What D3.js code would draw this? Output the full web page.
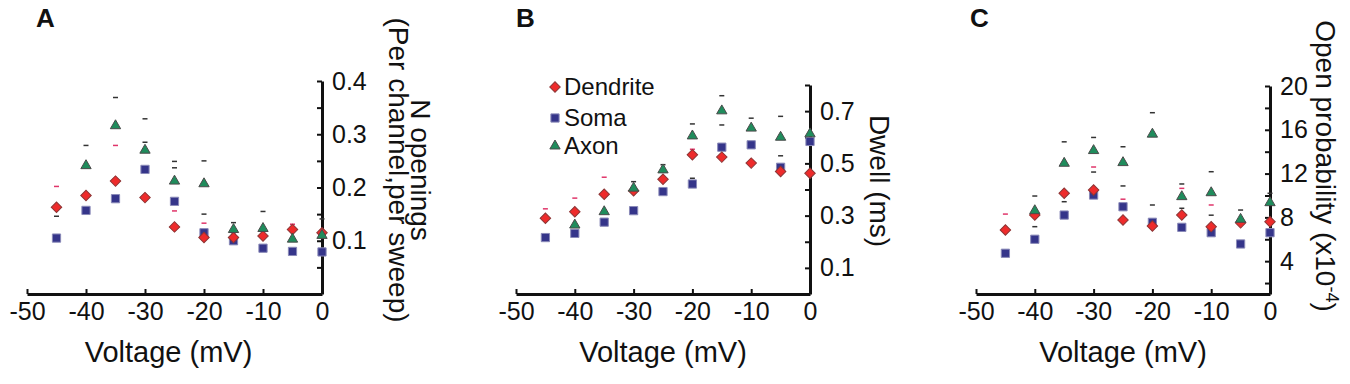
<!DOCTYPE html>
<html>
<head>
<meta charset="utf-8">
<script src="https://cdnjs.cloudflare.com/ajax/libs/d3/7.8.5/d3.min.js"></script>
<style>
  body { margin: 0; background: #fff; }
  text { font-family: "Liberation Sans", Arial, sans-serif; fill: #111; }
  .axis path, .axis line { stroke: #111; }
</style>
</head>
<body>
<div id="vis-container"></div>
<script>
//the data
let voltage = [-45, -40, -35, -30, -25, -20, -15, -10, -5, 0];
let xTicks = [-50, -40, -30, -20, -10, 0];

//panel A: N openings
let openDendrite = [0.163, 0.185, 0.212, 0.181, 0.126, 0.106, 0.106, 0.109, 0.121, 0.115];
let openSoma     = [0.105, 0.157, 0.179, 0.234, 0.174, 0.115, 0.100, 0.086, 0.080, 0.079];
let openAxon     = [null, 0.241, 0.316, 0.270, 0.212, 0.207, 0.121, 0.123, 0.103, 0.110];
let openDendriteErr = [0.039, 0, 0.067, 0, 0.030, 0.027, 0.017, 0, 0.010, 0];
let openSomaErr     = [0.041, 0, 0, 0.051, 0.063, 0.035, 0.012, 0, 0, 0];
let openAxonErr     = [null, 0.038, 0.053, 0.059, 0.037, 0.043, 0.013, 0.032, 0, 0.031];
let openTicks = [0.05, 0.1, 0.15, 0.2, 0.25, 0.3, 0.35, 0.4];
let openLabels = [0.1, 0.2, 0.3, 0.4];

//panel B: dwell
let dwellDendrite = [0.290, 0.315, 0.382, 0.395, 0.439, 0.533, 0.524, 0.501, 0.469, 0.462];
let dwellSoma     = [0.216, 0.232, 0.275, 0.319, 0.392, 0.421, 0.562, 0.571, 0.485, 0.584];
let dwellAxon     = [null, 0.264, 0.315, 0.405, 0.475, 0.605, 0.701, 0.635, 0.600, 0.613];
let dwellDendriteErr = [0.036, 0.052, 0.065, 0, 0, 0.021, 0, 0, 0, 0];
let dwellSomaErr     = [0, 0, 0, 0, 0, 0.022, 0.085, 0, 0.044, 0];
let dwellAxonErr     = [null, 0, 0, 0.025, 0.020, 0.046, 0.058, 0.038, 0.080, 0];
let dwellTicks = [0.1, 0.2, 0.3, 0.4, 0.5, 0.6, 0.7, 0.8];
let dwellLabels = [0.1, 0.3, 0.5, 0.7];

//panel C: open probability
let popDendrite = [6.84, 8.21, 10.2, 10.5, 7.76, 7.21, 8.21, 7.15, 7.5, 7.6];
let popSoma     = [4.72, 6.0, 8.21, 10.04, 8.97, 7.55, 7.09, 6.6, 5.57, 6.6];
let popAxon     = [null, 8.61, 12.94, 14.1, 13.0, 15.6, 9.89, 10.25, 7.82, 9.34];
let popDendriteErr = [1.46, 0, 0, 2.1, 1.9, 0, 2.44, 1.98, 0, 0];
let popSomaErr     = [0, 1.15, 1.22, 2.1, 1.9, 1.58, 1.74, 1.6, 0, 0];
let popAxonErr     = [null, 1.34, 1.96, 1.2, 1.45, 1.96, 1.16, 1.92, 0.85, 0.86];
let popTicks = [2, 4, 6, 8, 10, 12, 14, 16, 18, 20];
let popLabels = [4, 8, 12, 16, 20];

let seriesNames = ["Dendrite", "Soma", "Axon"];

//marker styles
let styles = {
  Dendrite: {shape: d3.symbolSquare, size: 55, rotate: 45, fill: "#ee2b2b", stroke: "#8c3535", cap: "#e0356a"},
  Soma:     {shape: d3.symbolSquare, size: 68, rotate: 0,  fill: "#35358a", stroke: "#8a8ab8", cap: "#333"},
  Axon:     {shape: d3.symbolTriangle, size: 46, rotate: 0, fill: "#1f8c5c", stroke: "#4a4a4a", cap: "#333"}
};

let svg = d3.select("#vis-container")
  .append("svg")
  .attr("width", 1350)
  .attr("height", 384);

let panels = [
  {letter: "A", letterX: 36, x0: 27, x1: 322, domain: [0, 0.4], top: 81,
    series: [openDendrite, openSoma, openAxon], errs: [openDendriteErr, openSomaErr, openAxonErr],
    ticks: openTicks, labels: openLabels, fmt: d3.format(".1f"),
    title: [["N openings", 89], ["(Per channel,per sweep)", 67]], titleY: 170},
  {letter: "B", letterX: 516, x0: 516, x1: 810, domain: [0, 0.8], top: 85,
    series: [dwellDendrite, dwellSoma, dwellAxon], errs: [dwellDendriteErr, dwellSomaErr, dwellAxonErr],
    ticks: dwellTicks, labels: dwellLabels, fmt: d3.format(".1f"),
    title: [["Dwell (ms)", 60]], titleY: 181, legend: true},
  {letter: "C", letterX: 970, x0: 976, x1: 1270, domain: [1, 20], top: 86,
    series: [popDendrite, popSoma, popAxon], errs: [popDendriteErr, popSomaErr, popAxonErr],
    ticks: popTicks, labels: popLabels, fmt: d3.format("d"),
    title: [["Open probability (x10", 46, "-4"]], titleY: 166}
];

let bottom = 294;

for (let p of panels) {
  let x = d3.scaleLinear().domain([-50, 0]).range([p.x0, p.x1]);
  let y = d3.scaleLinear().domain(p.domain).range([bottom, p.top]);
  let g = svg.append("g");

  //x axis, plain hyphen for the minus sign
  let xAxis = d3.axisBottom(x)
    .tickValues(xTicks)
    .tickSizeInner(-5)
    .tickSizeOuter(0)
    .tickPadding(8)
    .tickFormat(d => String(d));
  let xg = g.append("g")
    .attr("class", "axis")
    .attr("transform", `translate(0,${bottom})`)
    .call(xAxis);
  xg.select(".domain").attr("stroke-width", 3);
  xg.selectAll(".tick line").attr("stroke-width", 2);
  xg.selectAll("text").attr("font-size", "25px").attr("fill", "#111");

  //y axis on the right, ticks pointing in
  let yAxis = d3.axisRight(y)
    .tickValues(p.ticks)
    .tickSizeInner(-5)
    .tickSizeOuter(0)
    .tickPadding(10)
    .tickFormat(d => p.labels.some(l => Math.abs(l - d) < 1e-9) ? p.fmt(d) : "");
  let yg = g.append("g")
    .attr("class", "axis")
    .attr("transform", `translate(${x(0)},0)`)
    .call(yAxis);
  yg.select(".domain").attr("stroke-width", 3);
  yg.selectAll(".tick line").attr("stroke-width", 2);
  yg.selectAll("text").attr("font-size", "25px").attr("fill", "#111");

  //x axis label
  g.append("text")
    .attr("x", (p.x0 + p.x1) / 2 - (p.letter === "A" ? 6 : 0))
    .attr("y", 362)
    .attr("font-size", "29px")
    .attr("text-anchor", "middle")
    .text("Voltage (mV)");

  //y axis label, rotated clockwise
  for (let t of p.title) {
    let txt = g.append("text")
      .attr("transform", `translate(${x(0) + t[1]},${p.titleY}) rotate(90)`)
      .attr("font-size", "28px")
      .attr("text-anchor", "middle");
    txt.append("tspan").text(t[0]);
    if (t[2]) {
      txt.append("tspan").attr("font-size", "18px").attr("dy", "-10").text(t[2]);
      txt.append("tspan").attr("dy", "10").text(")");
    }
  }

  //panel letter
  svg.append("text")
    .attr("x", p.letterX)
    .attr("y", 27)
    .attr("font-size", "26px")
    .attr("font-weight", "bold")
    .text(p.letter);

  //error caps
  p.series.forEach((vals, i) => {
    let st = styles[seriesNames[i]];
    let caps = voltage.map((v, j) => ({v: v, val: vals[j], err: p.errs[i][j]}))
      .filter(d => d.val != null && d.err);
    g.selectAll(null)
      .data(caps)
      .enter()
      .append("line")
      .attr("x1", d => x(d.v) - 2.5)
      .attr("x2", d => x(d.v) + 2.5)
      .attr("y1", d => y(d.val + d.err))
      .attr("y2", d => y(d.val + d.err))
      .attr("stroke", st.cap)
      .attr("stroke-width", 1.5);
  });

  //markers: soma, dendrite, axon on top
  for (let i of [1, 0, 2]) {
    let st = styles[seriesNames[i]];
    let pts = voltage.map((v, j) => ({v: v, val: p.series[i][j]})).filter(d => d.val != null);
    g.selectAll(null)
      .data(pts)
      .enter()
      .append("path")
      .attr("d", d3.symbol().type(st.shape).size(st.size))
      .attr("transform", d => `translate(${x(d.v)},${y(d.val)}) rotate(${st.rotate})`)
      .attr("fill", st.fill)
      .attr("stroke", st.stroke)
      .attr("stroke-width", 1);
  }

  //legend
  if (p.legend) {
    let ly = [87, 118, 146];
    seriesNames.forEach((name, i) => {
      let st = styles[name];
      g.append("path")
        .attr("d", d3.symbol().type(st.shape).size(st.size))
        .attr("transform", `translate(555,${ly[i]}) rotate(${st.rotate})`)
        .attr("fill", st.fill)
        .attr("stroke", st.stroke);
      g.append("text")
        .attr("x", 564)
        .attr("y", ly[i])
        .attr("dy", "0.35em")
        .attr("font-size", "24px")
        .text(name);
    });
  }
}
</script>
</body>
</html>
